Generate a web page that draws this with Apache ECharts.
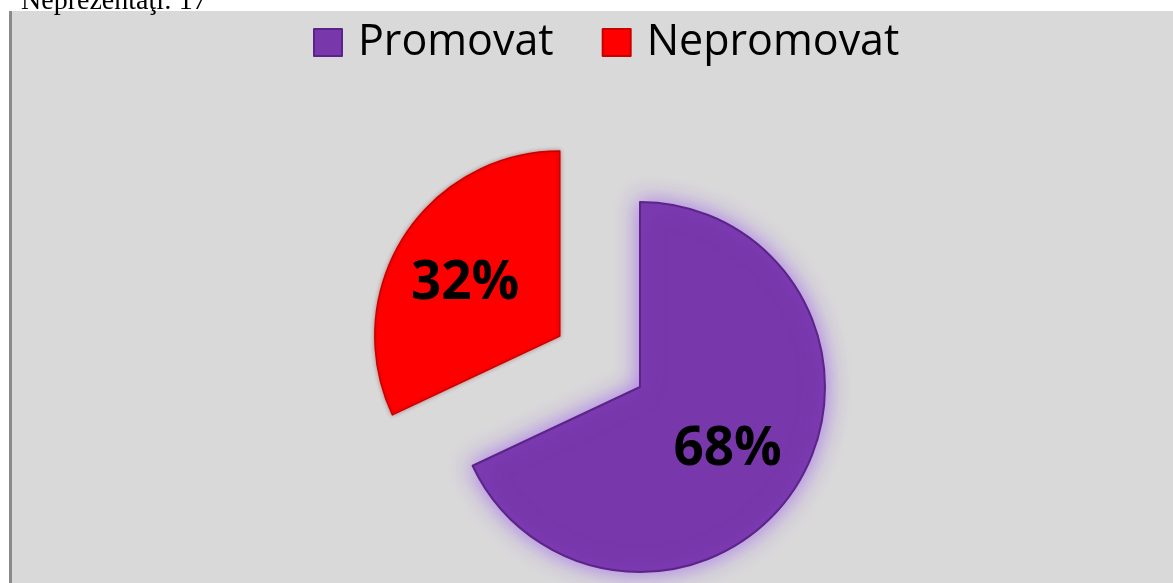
<!DOCTYPE html>
<html>
<head>
<meta charset="utf-8">
<script src="https://cdn.jsdelivr.net/npm/echarts@6/dist/echarts.min.js"></script>
<style>
  html, body { margin: 0; padding: 0; background: #ffffff; }
  #chart { width: 1173px; height: 583px; }
</style>
</head>
<body>
<div id="chart"></div>
<script>
const categories = ['Promovat', 'Nepromovat'];
const values = [68, 32];
const headerText = 'Neprezentaţi: 17';

const chart = echarts.init(document.getElementById('chart'), null, { renderer: 'canvas' });

const itemStyles = [
  { color: '#7837ab', borderColor: '#5b2488', borderWidth: 2, shadowBlur: 22, shadowColor: 'rgba(160,100,235,0.85)' },
  { color: '#ff0000', borderColor: '#c80000', borderWidth: 1.5, shadowBlur: 4, shadowColor: 'rgba(120,0,0,0.35)' }
];
const labelOffsets = [[7, 12], [-14, -1]];

const labelBase = {
  show: true,
  position: 'inside',
  formatter: '{d}%',
  fontFamily: '"Open Sans"',
  fontWeight: 'bold',
  fontSize: 53,
  color: '#000000'
};

const option = {
  backgroundColor: '#ffffff',
  animation: false,
  graphic: [
    { type: 'rect', z: -10, shape: { x: 12, y: 11, width: 1161, height: 572 }, style: { fill: '#d9d9d9' } },
    { type: 'rect', z: -9, shape: { x: 9, y: 11, width: 3, height: 572 }, style: { fill: '#8a8a8a' } },
    { type: 'text', z: 5, x: 21, y: -12, style: { text: headerText, font: '28px "Liberation Serif"', fill: '#000000', verticalAlign: 'top' } }
  ],
  legend: {
    data: categories,
    left: 308,
    top: 16,
    itemWidth: 28,
    itemHeight: 27,
    itemGap: 48,
    icon: 'rect',
    selectedMode: false,
    textStyle: { fontFamily: '"Open Sans"', fontSize: 43, color: '#000000', lineHeight: 42, padding: [0, 0, 0, 11] }
  },
  series: [{
    type: 'pie',
    center: [640, 387],
    radius: [0, 185],
    startAngle: 90,
    clockwise: true,
    selectedMode: 'single',
    selectedOffset: 95,
    avoidLabelOverlap: false,
    emphasis: { disabled: true },
    label: labelBase,
    labelLine: { show: false },
    data: categories.map((name, i) => ({
      name: name,
      value: values[i],
      selected: i === 1,
      itemStyle: itemStyles[i],
      label: { offset: labelOffsets[i] },
      select: { itemStyle: itemStyles[i], label: { show: true, offset: labelOffsets[i] } }
    }))
  }]
};
chart.setOption(option);
</script>
</body>
</html>
